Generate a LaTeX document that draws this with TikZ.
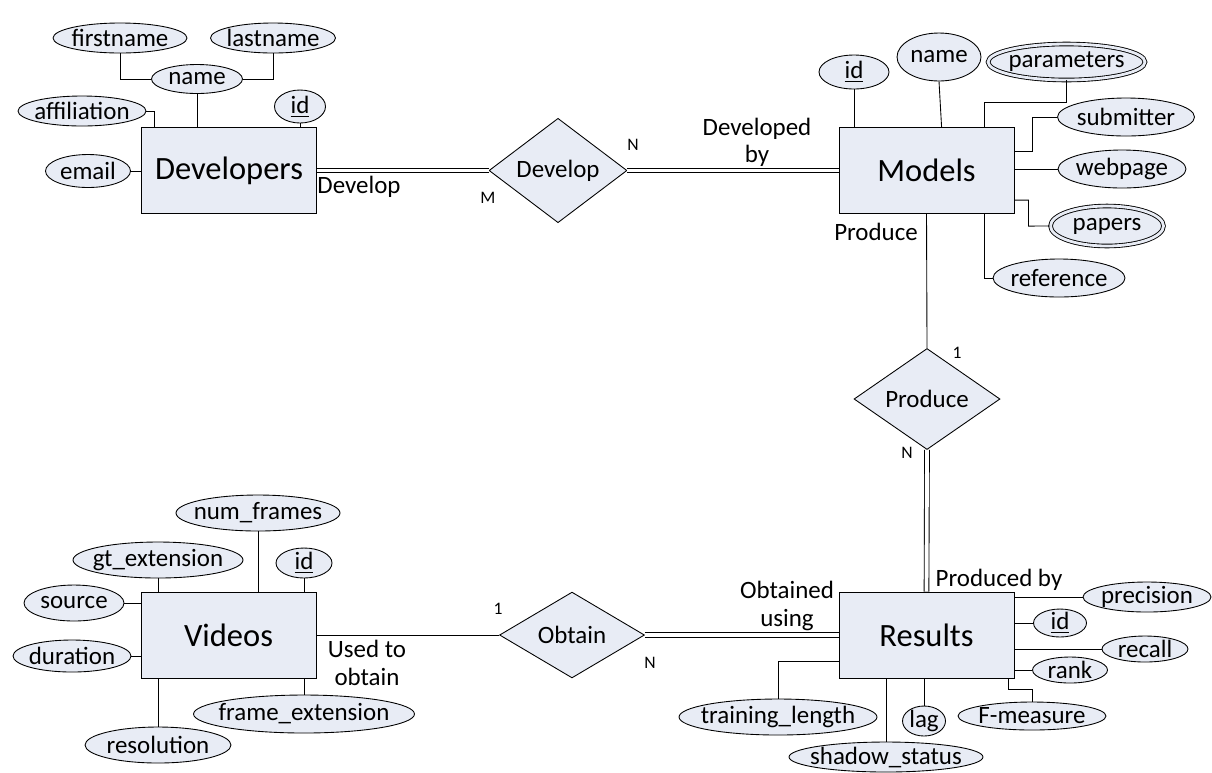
\documentclass[tikz,border=0pt]{standalone}
\usepackage{fontspec}
\setmainfont{Carlito}
\usepackage{tikz}
\usetikzlibrary{shapes.geometric}
\usetikzlibrary{calc}
\definecolor{erfill}{RGB}{232, 236, 245}
\tikzset{entity/.style = {draw, fill = erfill, minimum width = 3.5cm, minimum height = 1.72cm, font = \fontsize{18.5}{22}\selectfont}}
\tikzset{attr/.style = {draw, ellipse, fill = erfill, inner xsep = -5pt, inner ysep = -3pt, font = \fontsize{14.2}{16.6}\selectfont}}
\tikzset{multi/.style = {double = erfill, double distance = 1.6pt}}
\tikzset{rel/.style = {draw, diamond, fill = erfill, inner sep = 0, font = \fontsize{14.2}{16.6}\selectfont}}
\tikzset{lbl/.style = {align = center, inner sep = 0, font = \fontsize{14.2}{15.5}\selectfont}}
\tikzset{card/.style = {inner sep = 0, font = \fontsize{10}{12}\selectfont}}
\tikzset{dbl/.style = {double, double distance = 2.2pt}}

\begin{document}
\begin{tikzpicture}[x = 0.02cm, y = -0.02cm, line width = 0.5pt]
    \useasboundingbox (0, 0) rectangle (1212, 772);

    \node [entity] (dev) at (229, 170.5) {Developers};
    \node [entity] (mod) at (926.5, 170.5) {Models};
    \node [entity] (res) at (926.5, 635) {Results};
    \node [entity] (vid) at (228.5, 635) {Videos};

    \node [rel, minimum width = 2.76cm, minimum height = 1.66cm] (devrel) at (558, 170.5) {Develop};
    \node [rel, minimum width = 2.92cm, minimum height = 1.64cm] (prodrel) at (927, 399) {Produce};
    \node [rel, minimum width = 2.9cm, minimum height = 1.68cm] (obtrel) at (572, 635) {Obtain};

    \node [attr, minimum width = 2.68cm, minimum height = 0.6cm] (dfirst) at (120, 38) {firstname};
    \node [attr, minimum width = 2.5cm, minimum height = 0.6cm] (dlast) at (273, 38) {lastname};
    \node [attr, minimum width = 1.82cm, minimum height = 0.58cm] (dname) at (197, 79) {name};
    \node [attr, minimum width = 1.02cm, minimum height = 0.66cm] (did) at (300, 106.5) {\underline{id}};
    \node [attr, minimum width = 2.56cm, minimum height = 0.6cm] (daff) at (82, 111) {affiliation};
    \node [attr, minimum width = 1.7cm, minimum height = 0.66cm] (demail) at (88, 171) {email};

    \node [attr, minimum width = 1.4cm, minimum height = 0.68cm] (mid) at (854, 72) {\underline{id}};
    \node [attr, minimum width = 1.68cm, minimum height = 0.96cm] (mname) at (939, 57) {name};
    \node [attr, multi, minimum width = 3.14cm, minimum height = 0.72cm] (mparam) at (1066.5, 62) {parameters};
    \node [attr, minimum width = 2.74cm, minimum height = 0.76cm] (msub) at (1126, 117) {submitter};
    \node [attr, minimum width = 2.56cm, minimum height = 0.76cm] (mweb) at (1122, 169) {webpage};
    \node [attr, multi, minimum width = 2.26cm, minimum height = 0.8cm] (mpap) at (1107, 226) {papers};
    \node [attr, minimum width = 2.64cm, minimum height = 0.76cm] (mref) at (1059, 278) {reference};

    \node [attr, minimum width = 2.56cm, minimum height = 0.6cm] (rprec) at (1147, 597) {precision};
    \node [attr, minimum width = 1.06cm, minimum height = 0.56cm] (rid) at (1060, 623) {\underline{id}};
    \node [attr, minimum width = 1.72cm, minimum height = 0.52cm] (rrec) at (1145, 649) {recall};
    \node [attr, minimum width = 1.5cm, minimum height = 0.52cm] (rrank) at (1070, 670) {rank};
    \node [attr, minimum width = 2.96cm, minimum height = 0.56cm] (rf) at (1032, 716) {F-measure};
    \node [attr, minimum width = 0.86cm, minimum height = 0.6cm] (rlag) at (924, 721) {lag};
    \node [attr, minimum width = 3.88cm, minimum height = 0.6cm] (rshadow) at (886, 757) {shadow\_status};
    \node [attr, minimum width = 3.96cm, minimum height = 0.72cm] (rtrain) at (778, 717) {training\_length};

    \node [attr, minimum width = 3.28cm, minimum height = 0.72cm] (vnum) at (258, 513) {num\_frames};
    \node [attr, minimum width = 3.4cm, minimum height = 0.72cm] (vgt) at (158, 560) {gt\_extension};
    \node [attr, minimum width = 1.12cm, minimum height = 0.6cm] (vid2) at (304, 563) {\underline{id}};
    \node [attr, minimum width = 2cm, minimum height = 0.72cm] (vsrc) at (74, 603) {source};
    \node [attr, minimum width = 2.36cm, minimum height = 0.64cm] (vdur) at (72, 656) {duration};
    \node [attr, minimum width = 2.92cm, minimum height = 0.72cm] (vres) at (158, 745) {resolution};
    \node [attr, minimum width = 4.42cm, minimum height = 0.76cm] (vframe) at (304, 714) {frame\_extension};

    \node [lbl] (l1) at (359, 187) {Develop};
    \node [card] (l2) at (488, 198) {M};
    \node [card] (l3) at (633, 145) {N};
    \node [lbl] (l4) at (757, 142) {Developed\\by};
    \node [lbl] (l5) at (876, 232) {Produce};
    \node [card] (l6) at (957, 353) {1};
    \node [card] (l7) at (907, 453) {N};
    \node [lbl] (l8) at (999, 580) {Produced by};
    \node [lbl] (l9) at (787, 606) {Obtained\\using};
    \node [card] (l10) at (650, 663) {N};
    \node [card] (l11) at (498, 609) {1};
    \node [lbl] (l12) at (367, 663) {Used to\\obtain};

    \draw (dfirst.south) |- (dname.west);
    \draw (dlast.south) |- (dname.east);
    \draw (dname.south) -- (dname.south |- dev.north);
    \draw (did.south) -- (did.south |- dev.north);
    \draw (daff.east) -| ($(dev.north west) + (13, 0)$);
    \draw (demail.east) -- (demail.east -| dev.west);

    \draw [dbl] (dev.east) -- (devrel.west);
    \draw [dbl] (devrel.east) -- (mod.west);

    \draw (mid.south) -- (mid.south |- mod.north);
    \draw (mname.south) -- ($(mod.north west) + (103, 0)$);
    \draw (mparam.south) |- ($(mod.north west) + (146, -25)$) -- ($(mod.north west) + (146, 0)$);
    \draw (msub.west) -| ($(mod.north east) + (18, 24)$) -- ($(mod.north east) + (0, 24)$);
    \draw (mweb.west) -- (mweb.west -| mod.east);
    \draw ($(mod.north east) + (0, 73)$) -| ($(mod.north east) + (14, 99)$) -- (mpap.west);
    \draw ($(mod.south west) + (146, 0)$) |- (mref.west);

    \draw (mod.south) -- (prodrel.north);
    \draw [dbl] (prodrel.south) -- (res.north);

    \draw (rprec.west -| res.east) -- (rprec.west);
    \draw (rid.west -| res.east) -- (rid.west);
    \draw (rrec.west -| res.east) -- (rrec.west);
    \draw (rrank.west -| res.east) -- (rrank.west);
    \draw ($(res.south east) + (-6, 0)$) |- ($(rf.north) + (0, -12)$) -- (rf.north);
    \draw (rlag.north) -- (rlag.north |- res.south);
    \draw (rshadow.north) -- (rshadow.north |- res.south);
    \draw ($(res.north west) + (0, 70)$) -| (rtrain.north);

    \draw (vid.east) -- (obtrel.west);
    \draw [dbl] (obtrel.east) -- (res.west);

    \draw (vnum.south) -- (vnum.south |- vid.north);
    \draw (vgt.south) -- (vgt.south |- vid.north);
    \draw (vid2.south) -- (vid2.south |- vid.north);
    \draw (vsrc.east) -- (vsrc.east -| vid.west);
    \draw (vdur.east) -- (vdur.east -| vid.west);
    \draw (vres.north) -- (vres.north |- vid.south);
    \draw (vframe.north) -- (vframe.north |- vid.south);
\end{tikzpicture}
\end{document}
